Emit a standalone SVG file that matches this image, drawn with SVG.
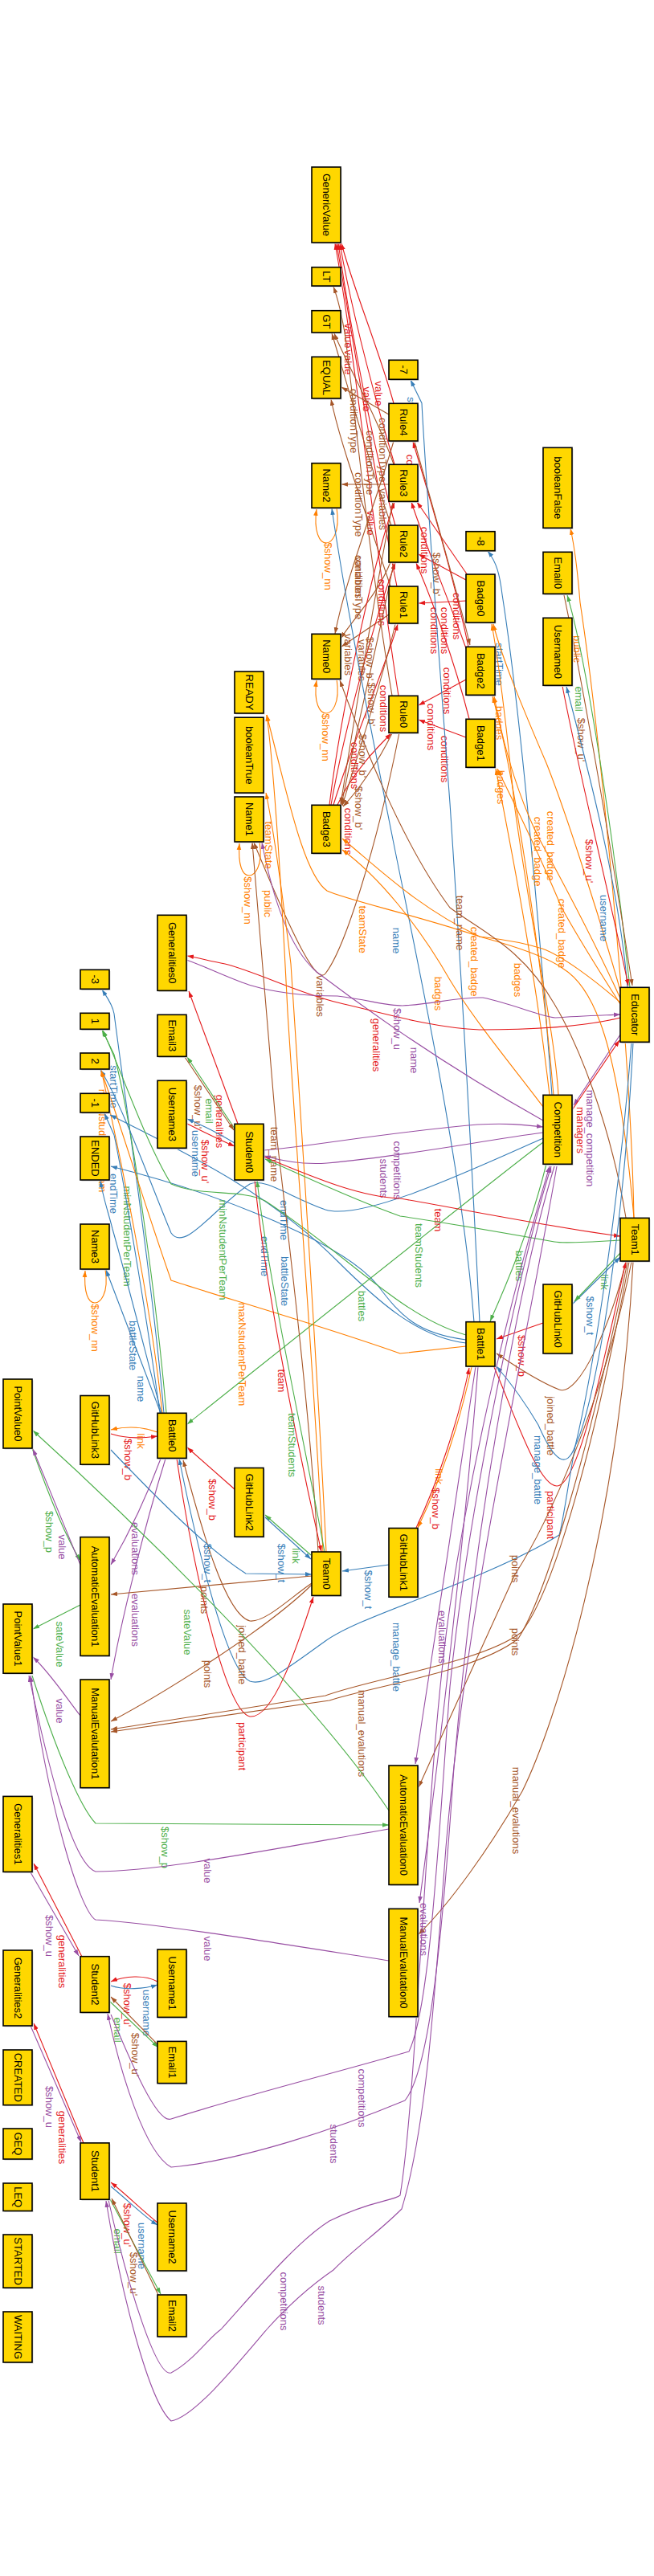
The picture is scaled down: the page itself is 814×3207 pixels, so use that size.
<svg xmlns="http://www.w3.org/2000/svg" width="814" height="3207" viewBox="0 0 814 3207">
<style>
.bg{fill:#fff}
.nd rect{fill:#FFD700;stroke:#000;stroke-width:1.6}
.nd rect.sh{fill:#d8d8d8;stroke:none}
.nd text{font-family:"Liberation Sans",Arial,sans-serif;font-size:13px;fill:#000;text-anchor:middle;dominant-baseline:central}
.e{fill:none;stroke-width:1.1}
.r{stroke:#e41a1c;marker-end:url(#mr)}
.b{stroke:#377eb8;marker-end:url(#mb)}
.g{stroke:#4daf4a;marker-end:url(#mg)}
.p{stroke:#984ea3;marker-end:url(#mp)}
.o{stroke:#ff7f00;marker-end:url(#mo)}
.n{stroke:#a65628;marker-end:url(#mn)}
.l{font-family:"Liberation Sans",Arial,sans-serif;font-size:13px;text-anchor:middle;dominant-baseline:central}
.lr{fill:#e41a1c}.lb{fill:#377eb8}.lg{fill:#4daf4a}.lp{fill:#984ea3}.lo{fill:#ff7f00}.ln{fill:#a65628}
</style>
<defs>
<marker id="mr" viewBox="0 0 10 10" refX="10" refY="5" markerWidth="8" markerHeight="8" markerUnits="userSpaceOnUse" orient="auto"><path d="M0,1.5L10,5L0,8.5z" fill="#e41a1c"/></marker>
<marker id="mb" viewBox="0 0 10 10" refX="10" refY="5" markerWidth="8" markerHeight="8" markerUnits="userSpaceOnUse" orient="auto"><path d="M0,1.5L10,5L0,8.5z" fill="#377eb8"/></marker>
<marker id="mg" viewBox="0 0 10 10" refX="10" refY="5" markerWidth="8" markerHeight="8" markerUnits="userSpaceOnUse" orient="auto"><path d="M0,1.5L10,5L0,8.5z" fill="#4daf4a"/></marker>
<marker id="mp" viewBox="0 0 10 10" refX="10" refY="5" markerWidth="8" markerHeight="8" markerUnits="userSpaceOnUse" orient="auto"><path d="M0,1.5L10,5L0,8.5z" fill="#984ea3"/></marker>
<marker id="mo" viewBox="0 0 10 10" refX="10" refY="5" markerWidth="8" markerHeight="8" markerUnits="userSpaceOnUse" orient="auto"><path d="M0,1.5L10,5L0,8.5z" fill="#ff7f00"/></marker>
<marker id="mn" viewBox="0 0 10 10" refX="10" refY="5" markerWidth="8" markerHeight="8" markerUnits="userSpaceOnUse" orient="auto"><path d="M0,1.5L10,5L0,8.5z" fill="#a65628"/></marker>
</defs>
<rect class="bg" x="0" y="0" width="814" height="3207"/>
<g id="edges">
<!-- Rule values -->
<path class="e r" d="M490,502 C470,430 440,360 425,303"/><text class="l lr" transform="translate(471.7,490) rotate(90)">value</text>
<path class="e r" d="M491,578 C468,500 440,400 423,303"/><text class="l lr" transform="translate(456.7,497) rotate(90)">value</text>
<path class="e r" d="M492,654 C465,560 438,420 421,303"/><text class="l lr" transform="translate(433,418) rotate(90)">value</text>
<path class="e r" d="M494,730 C468,600 440,430 419,303"/><text class="l lr" transform="translate(433,451) rotate(90)">value</text>
<path class="e r" d="M496,866 C472,720 442,440 417,303"/><text class="l lr" transform="translate(461.7,651) rotate(90)">value</text>
<!-- conditionType -->
<path class="e n" d="M484,516 L425,482"/><text class="l ln" transform="translate(440,524) rotate(90)">conditionType</text>
<path class="e n" d="M490,578 C470,520 430,450 416,415"/><text class="l ln" transform="translate(460,576) rotate(90)">conditionType</text>
<path class="e n" d="M487,654 C460,580 430,470 413,415"/><text class="l ln" transform="translate(476,560) rotate(90)">conditionType</text>
<path class="e n" d="M486,730 C460,650 425,560 412,497"/><text class="l ln" transform="translate(446.7,628) rotate(90)">conditionType</text>
<path class="e n" d="M488,866 C460,700 440,500 430,420 C425,390 420,370 415,357"/><text class="l ln" transform="translate(446.7,731) rotate(90)">conditionType</text>
<!-- variables -->
<path class="e n" d="M484,603 L425,603"/><text class="l ln" transform="translate(476,634) rotate(90)">variables</text>
<path class="e n" d="M490,549 C470,620 430,720 417,789"/><text class="l ln" transform="translate(450,822) rotate(90)">variables</text>
<path class="e n" d="M484,765 L425,805"/><text class="l ln" transform="translate(433,815) rotate(90)">variables</text>
<path class="e n" d="M486,700 C470,740 440,770 424,795"/><text class="l ln" transform="translate(446.7,719) rotate(90)">variables</text>
<path class="e n" d="M497,912 C470,1050 430,1180 405,1212 C395,1225 370,1180 316,1049"/><text class="l ln" transform="translate(398,1240) rotate(90)">variables</text>
<!-- conditions -->
<path class="e r" d="M580,748 L521,751"/><text class="l lr" transform="translate(568,767) rotate(90)">conditions</text>
<path class="e r" d="M580,722 L521,690"/><text class="l lr" transform="translate(528,685) rotate(90)">conditions</text>
<path class="e r" d="M582,716 L519,625"/><text class="l lr" transform="translate(510,595) rotate(90)">conditions</text>
<path class="e r" d="M583,805 C565,720 535,620 514,550"/><text class="l lr" transform="translate(553,785) rotate(90)">conditions</text>
<path class="e r" d="M581,810 C560,750 530,680 512,625"/><text class="l lr" transform="translate(540,785) rotate(90)">conditions</text>
<path class="e r" d="M580,846 L521,878"/><text class="l lr" transform="translate(556.7,860) rotate(90)">conditions</text>
<path class="e r" d="M580,918 L521,896"/><text class="l lr" transform="translate(553,945) rotate(90)">conditions</text>
<path class="e r" d="M584,895 C565,820 535,740 518,701"/><text class="l lr" transform="translate(536.7,905) rotate(90)">conditions</text>
<path class="e r" d="M420,1002 C440,960 470,930 487,913"/><text class="l lr" transform="translate(441.7,953) rotate(90)">conditions</text>
<path class="e r" d="M415,1002 C440,920 480,830 495,777"/><text class="l lr" transform="translate(477,882) rotate(90)">conditions</text>
<path class="e r" d="M412,1002 C430,900 470,760 492,701"/><text class="l lr" transform="translate(433,1035) rotate(90)">conditions</text>
<path class="e r" d="M410,1002 C425,880 465,700 491,625"/><text class="l lr" transform="translate(475,750) rotate(90)">conditions</text>
<!-- $show_b' -->
<path class="e n" d="M516,550 C535,620 565,720 585,803"/><text class="l ln" transform="translate(543,715) rotate(90)">$show_b'</text>
<path class="e n" d="M489,625 C470,720 440,900 424,1001"/><text class="l ln" transform="translate(460,820) rotate(90)">$show_b'</text>
<path class="e n" d="M490,701 C475,780 445,900 425,1002"/><text class="l ln" transform="translate(462,877) rotate(90)">$show_b'</text>
<path class="e n" d="M492,777 C475,850 445,940 426,1003"/><text class="l ln" transform="translate(451.7,941) rotate(90)">$show_b'</text>
<path class="e n" d="M488,913 C470,950 445,985 427,1004"/><text class="l ln" transform="translate(446.7,1006) rotate(90)">$show_b'</text>
<!-- name self loops -->
<path class="e o" d="M419,632 C424,665 412,676 406,676 C398,676 390,662 394,634"/><text class="l lo" transform="translate(408,705) rotate(90)">$show_nn</text>
<path class="e o" d="M419,845 C424,878 412,888 406,888 C398,888 390,875 394,847"/><text class="l lo" transform="translate(405,918) rotate(90)">$show_nn</text>
<path class="e o" d="M323,1048 C328,1080 316,1090 310,1090 C302,1090 296,1078 298,1050"/><text class="l lo" transform="translate(308.3,1121) rotate(90)">$show_nn</text>
<path class="e o" d="M131,1580 C136,1612 124,1622 118,1622 C110,1622 104,1610 106,1582"/><text class="l lo" transform="translate(118.4,1653) rotate(90)">$show_nn</text>
<!-- start / end / names -->
<path class="e b" d="M597,1646 C585,1400 570,1150 560,1000 C545,800 530,600 525,502 L511,473"/><text class="l lb" transform="translate(511.7,521) rotate(90)">startTime</text>
<path class="e b" d="M687,1363 C675,1200 650,900 625,740 C622,715 618,700 607,686"/><text class="l lb" transform="translate(621.7,827) rotate(90)">startTime</text>
<path class="e b" d="M590,1646 C575,1450 520,1200 490,1050 C460,900 430,750 413,633"/><text class="l lb" transform="translate(493,1171) rotate(90)">name</text>
<path class="e b" d="M200,1759 L132,1581"/><text class="l lb" transform="translate(175.5,1729) rotate(90)">name</text>
<path class="e b" d="M204,1759 C190,1600 160,1400 142,1262 C140,1250 132,1240 127,1232"/><text class="l lb" transform="translate(141.7,1353) rotate(90)">startTime</text>
<path class="e g" d="M207,1759 C195,1620 165,1400 142,1313 L127,1282"/><text class="l lg" transform="translate(158.4,1539) rotate(90)">minNstudentPerTeam</text>
<path class="e o" d="M202,1759 C185,1600 145,1420 126,1332"/><text class="l lo" transform="translate(127,1420) rotate(90)">maxNstudentPerTeam</text>
<path class="e b" d="M199,1759 C180,1620 150,1450 142,1413 L130,1386"/><text class="l lb" transform="translate(141.2,1486) rotate(90)">endTime</text>
<path class="e b" d="M201,1759 C185,1700 160,1600 140,1530 C135,1510 128,1490 125,1470"/><text class="l lb" transform="translate(165,1675) rotate(90)">battleState</text>
<path class="e b" d="M580,1668 C520,1660 500,1640 470,1600 C420,1540 250,1480 138,1452"/><text class="l lb" transform="translate(354,1595) rotate(90)">battleState</text>
<path class="e b" d="M580,1672 C520,1665 470,1620 420,1570 C330,1480 220,1430 137,1388"/><text class="l lb" transform="translate(353,1519) rotate(90)">endTime</text>
<path class="e b" d="M676,1417 C580,1460 450,1520 405,1506 C360,1490 330,1466 311,1474 C270,1500 230,1560 213,1535 C190,1480 150,1370 125,1332"/><text class="l lb" transform="translate(329.7,1564) rotate(90)">endTime</text>
<path class="e g" d="M580,1662 C500,1640 430,1560 330,1495 C300,1480 250,1490 213,1474 C180,1420 150,1330 128,1283"/><text class="l lg" transform="translate(277.8,1556) rotate(90)">minNstudentPerTeam</text>
<path class="e o" d="M580,1676 L498,1685 C400,1650 260,1610 213,1594 C180,1500 150,1400 126,1333"/><text class="l lo" transform="translate(301,1686) rotate(90)">maxNstudentPerTeam</text>
<!-- competition / educator -->
<path class="e p" d="M676,1395 C560,1330 460,1260 394,1210 C360,1180 340,1120 326,1049"/><text class="l lp" transform="translate(515.7,1320) rotate(90)">name</text>
<path class="e o" d="M689,1363 C675,1200 640,960 613,867"/><text class="l lo" transform="translate(621.7,900) rotate(90)">badges</text>
<path class="e o" d="M684,1363 C665,1200 635,1050 617,957"/><text class="l lo" transform="translate(623.3,980) rotate(90)">badges</text>
<path class="e o" d="M676,1378 C640,1330 590,1270 560,1220 C520,1150 470,1090 426,1058"/><text class="l lo" transform="translate(545.7,1237) rotate(90)">badges</text>
<path class="e o" d="M695,1363 C690,1280 660,1150 640,1000 C630,900 620,820 612,777"/><text class="l lo" transform="translate(644,1220) rotate(90)">badges</text>
<path class="e o" d="M774,1240 C740,1120 700,1000 680,950 C650,880 625,820 614,777"/><text class="l lo" transform="translate(685,1053) rotate(90)">created_badge</text>
<path class="e o" d="M773,1245 C730,1150 690,1080 669,1040 C640,980 625,920 615,867"/><text class="l lo" transform="translate(669.3,1060) rotate(90)">created_badge</text>
<path class="e o" d="M772,1250 C740,1200 710,1150 699,1130 C670,1060 640,1000 619,957"/><text class="l lo" transform="translate(699,1162) rotate(90)">created_badge</text>
<path class="e o" d="M772,1248 C740,1220 700,1190 675,1181 C640,1170 610,1168 597,1166 C520,1130 470,1080 426,1044"/><text class="l lo" transform="translate(590.7,1197) rotate(90)">created_badge</text>
<path class="e o" d="M789,1516 C785,1300 745,900 722,750 C718,700 715,680 710,658"/><text class="l lo" transform="translate(718.3,808) rotate(90)">public</text>
<path class="e g" d="M784,1229 C765,1050 730,820 706,741"/><text class="l lg" transform="translate(720,870) rotate(90)">email</text>
<path class="e n" d="M702,741 C725,850 760,1050 787,1227"/><text class="l ln" transform="translate(723.3,921) rotate(90)">$show_u'</text>
<path class="e b" d="M781,1229 C770,1100 730,950 705,855"/><text class="l lb" transform="translate(751.7,1143) rotate(90)">username</text>
<path class="e r" d="M700,854 C720,960 760,1120 782,1227"/><text class="l lr" transform="translate(733.3,1072) rotate(90)">$show_u'</text>
<path class="e r" d="M772,1267 C720,1280 650,1282 597,1282 C540,1280 480,1262 420,1248 C370,1236 320,1210 280,1200 C260,1196 245,1192 233,1190"/><text class="l lr" transform="translate(468,1301) rotate(90)">generalities</text>
<path class="e p" d="M232,1195 C260,1205 290,1220 313,1227 C350,1238 390,1240 420,1240 C460,1245 480,1252 501,1252 C540,1250 570,1241 601,1242 C640,1250 670,1265 691,1267 C720,1265 750,1264 772,1263"/><text class="l lp" transform="translate(494,1281) rotate(90)">$show_u</text>
<path class="e p" d="M772,1288 L714,1376"/><text class="l lp" transform="translate(734,1417) rotate(90)">manage_competition</text>
<path class="e r" d="M712,1382 L771,1295"/><text class="l lr" transform="translate(722.3,1407) rotate(90)">managers</text>
<path class="e p" d="M676,1410 C600,1420 500,1440 407,1448 C380,1450 350,1445 329,1439"/><text class="l lp" transform="translate(477.3,1467) rotate(90)">students</text>
<path class="e p" d="M328,1432 C380,1428 480,1410 594,1400 C630,1398 650,1400 676,1403"/><text class="l lp" transform="translate(494,1457) rotate(90)">competitions</text>
<path class="e g" d="M680,1449 C660,1530 630,1600 610,1645"/><text class="l lg" transform="translate(646.4,1576) rotate(90)">battles</text>
<path class="e g" d="M676,1422 C600,1480 450,1600 233,1773"/><text class="l lg" transform="translate(450.7,1626) rotate(90)">battles</text>
<path class="e o" d="M789,1516 C770,1300 740,1230 701,1206 C680,1190 630,1175 597,1166 C520,1140 430,1120 407,1109 C380,1090 360,1000 343,934 L332,890"/><text class="l lo" transform="translate(451,1157) rotate(90)">teamState</text>
<path class="e o" d="M402,1932 C390,1700 370,1450 358,1260 C350,1100 340,950 332,890"/><text class="l lo" transform="translate(334,1052) rotate(90)">teamState</text>
<path class="e o" d="M406,1932 C395,1700 375,1400 362,1200 C350,1100 340,1030 331,987"/><text class="l lo" transform="translate(333.3,1125) rotate(90)">public</text>
<path class="e n" d="M779,1516 C760,1400 720,1300 690,1250 C650,1180 600,1160 560,1130 C500,1050 450,920 423,847"/><text class="l ln" transform="translate(572.3,1149) rotate(90)">team_name</text>
<path class="e n" d="M396,1932 C385,1750 360,1550 345,1420 C330,1250 320,1120 314,1049"/><text class="l ln" transform="translate(341.7,1437) rotate(90)">team_name</text>
<!-- student0 -->
<path class="e r" d="M296,1399 L235,1234"/><text class="l lr" transform="translate(273.3,1396) rotate(90)">generalities</text>
<path class="e g" d="M292,1405 L233,1316"/><text class="l lg" transform="translate(260,1383) rotate(90)">email</text>
<path class="e n" d="M230,1316 L291,1407"/><text class="l ln" transform="translate(246.7,1378) rotate(90)">$show_u'</text>
<path class="e b" d="M292,1423 C270,1410 250,1400 233,1393"/><text class="l lb" transform="translate(243.3,1436) rotate(90)">username</text>
<path class="e r" d="M233,1399 C255,1410 275,1420 292,1427"/><text class="l lr" transform="translate(255,1446) rotate(90)">$show_u'</text>
<path class="e r" d="M328,1440 C400,1470 450,1490 498,1492 C600,1510 700,1530 772,1539"/><text class="l lr" transform="translate(545,1519) rotate(90)">team</text>
<path class="e g" d="M772,1544 C740,1546 700,1548 690,1546 C600,1530 540,1520 498,1514 C430,1490 370,1460 330,1443"/><text class="l lg" transform="translate(521.8,1563) rotate(90)">teamStudents</text>
<path class="e r" d="M317,1469 C330,1600 370,1800 400,1932"/><text class="l lr" transform="translate(350.5,1719) rotate(90)">team</text>
<path class="e g" d="M404,1932 C380,1800 335,1600 320,1470"/><text class="l lg" transform="translate(363,1799) rotate(90)">teamStudents</text>
<!-- battles / teams / links -->
<path class="e r" d="M676,1647 L618,1667"/><text class="l lr" transform="translate(649,1688) rotate(90)">$show_b</text>
<path class="e b" d="M712,1624 L772,1565"/><text class="l lb" transform="translate(734.7,1638) rotate(90)">$show_t</text>
<path class="e g" d="M772,1560 L715,1620"/><text class="l lg" transform="translate(752.9,1596) rotate(90)">link</text>
<path class="e n" d="M779,1571 C760,1650 720,1740 696,1730 C670,1720 640,1700 618,1685"/><text class="l ln" transform="translate(685.4,1775) rotate(90)">joined_battle</text>
<path class="e r" d="M615,1702 C640,1760 670,1850 693,1850 C720,1850 750,1700 779,1571"/><text class="l lr" transform="translate(685.4,1886) rotate(90)">participant</text>
<path class="e b" d="M786,1298 C770,1500 740,1700 716,1800 C705,1830 690,1820 670,1774 C650,1740 630,1715 618,1701"/><text class="l lb" transform="translate(669,1830) rotate(90)">manage_battle</text>
<path class="e b" d="M788,1298 C775,1550 740,1750 716,1800 C705,1860 700,1900 696,1911 C600,1970 450,2010 405,2043 C360,2075 330,2100 311,2093 C280,2080 240,1900 223,1816"/><text class="l lb" transform="translate(493.2,2063) rotate(90)">manage_battle</text>
<path class="e r" d="M220,1816 C240,1950 280,2130 311,2137 C340,2140 370,2050 390,1988"/><text class="l lr" transform="translate(301,2174) rotate(90)">participant</text>
<path class="e n" d="M388,1971 C360,1990 330,2020 311,2018 C280,2010 250,1900 228,1818"/><text class="l ln" transform="translate(301,2060) rotate(90)">joined_battle</text>
<path class="e g" d="M387,1936 L330,1886"/><text class="l lg" transform="translate(368.6,1937) rotate(90)">link</text>
<path class="e b" d="M330,1889 L387,1941"/><text class="l lb" transform="translate(350.5,1946) rotate(90)">$show_t</text>
<path class="e r" d="M292,1854 L233,1802"/><text class="l lr" transform="translate(264.8,1867) rotate(90)">$show_b</text>
<path class="e o" d="M196,1783 C175,1775 155,1776 138,1780"/><text class="l lo" transform="translate(175.5,1794) rotate(90)">link</text>
<path class="e r" d="M138,1785 C160,1792 180,1790 196,1788"/><text class="l lr" transform="translate(159,1817) rotate(90)">$show_b</text>
<path class="e o" d="M587,1702 C570,1780 545,1850 520,1902"/><text class="l lo" transform="translate(546.7,1838) rotate(90)">link</text>
<path class="e r" d="M518,1902 C545,1845 570,1770 584,1703"/><text class="l lr" transform="translate(542.6,1878) rotate(90)">$show_b</text>
<path class="e b" d="M484,1948 L426,1956"/><text class="l lb" transform="translate(458,1979) rotate(90)">$show_t</text>
<path class="e b" d="M138,1805 C200,1870 260,1930 306,1959 L388,1960"/><text class="l lb" transform="translate(258,1946) rotate(90)">$show_t</text>
<!-- evaluations -->
<path class="e p" d="M200,1816 C180,1870 160,1910 138,1948"/><text class="l lp" transform="translate(168.7,1928) rotate(90)">evaluations</text>
<path class="e p" d="M206,1816 C180,1900 150,2020 138,2091"/><text class="l lp" transform="translate(168.7,2017) rotate(90)">evaluations</text>
<path class="e p" d="M592,1701 C570,1850 540,2050 517,2196"/><text class="l lp" transform="translate(550.4,2038) rotate(90)">evaluations</text>
<path class="e p" d="M595,1701 C580,1900 545,2200 522,2369"/><text class="l lp" transform="translate(527,2402) rotate(90)">evaluations</text>
<path class="e n" d="M388,1962 L138,1985"/><text class="l ln" transform="translate(254.4,1992) rotate(90)">points</text>
<path class="e n" d="M388,1973 C330,2030 200,2110 138,2143"/><text class="l ln" transform="translate(258,2084) rotate(90)">points</text>
<path class="e n" d="M783,1571 C740,1800 690,1980 649,2032 C600,2070 460,2090 405,2111 L138,2153"/><text class="l ln" transform="translate(641.2,2044) rotate(90)">points</text>
<path class="e n" d="M781,1571 C735,1800 680,1985 645,2040 C595,2080 470,2098 410,2117 L138,2156"/><text class="l ln" transform="translate(450.7,2158) rotate(90)">manual_evalutions</text>
<path class="e n" d="M786,1571 C750,1750 680,1900 641,1960 C600,2050 550,2160 521,2225"/><text class="l ln" transform="translate(641.2,1953) rotate(90)">points</text>
<path class="e n" d="M788,1571 C770,1900 690,2150 650,2230 C610,2300 560,2370 521,2408"/><text class="l ln" transform="translate(642.3,2254) rotate(90)">manual_evalutions</text>
<!-- point values -->
<path class="e g" d="M100,1998 L41,2028"/><text class="l lg" transform="translate(74.2,2047) rotate(90)">sateValue</text>
<path class="e g" d="M484,2254 C380,2100 150,1880 41,1781"/><text class="l lg" transform="translate(233.6,2032) rotate(90)">sateValue</text>
<path class="e g" d="M40,1803 C60,1860 80,1910 100,1943"/><text class="l lg" transform="translate(61.3,1907) rotate(90)">$show_p</text>
<path class="e p" d="M100,1948 C80,1900 60,1850 41,1804"/><text class="l lp" transform="translate(77.9,1926) rotate(90)">value</text>
<path class="e p" d="M100,2136 C80,2110 60,2080 41,2063"/><text class="l lp" transform="translate(74.2,2130) rotate(90)">value</text>
<path class="e g" d="M40,2086 C70,2180 100,2250 119,2270 L484,2272"/><text class="l lg" transform="translate(205,2300) rotate(90)">$show_p</text>
<path class="e p" d="M484,2277 C350,2300 200,2330 119,2330 C90,2320 60,2200 36,2086"/><text class="l lp" transform="translate(258,2329) rotate(90)">value</text>
<path class="e p" d="M484,2441 C350,2420 200,2395 119,2390 C100,2380 60,2250 38,2086"/><text class="l lp" transform="translate(258,2426) rotate(90)">value</text>
<!-- students 1,2 -->
<path class="e r" d="M102,2436 L42,2320"/><text class="l lr" transform="translate(77.9,2442) rotate(90)">generalities</text>
<path class="e p" d="M38,2331 L98,2435"/><text class="l lp" transform="translate(61.3,2410) rotate(90)">$show_u</text>
<path class="e r" d="M104,2668 L42,2519"/><text class="l lr" transform="translate(77.9,2661) rotate(90)">generalities</text>
<path class="e p" d="M38,2522 L101,2667"/><text class="l lp" transform="translate(61.3,2623) rotate(90)">$show_u</text>
<path class="e r" d="M196,2467 C180,2458 155,2460 138,2467"/><text class="l lr" transform="translate(158.4,2496) rotate(90)">$show_u'</text>
<path class="e b" d="M138,2472 C155,2478 180,2476 196,2471"/><text class="l lb" transform="translate(182.8,2506) rotate(90)">username</text>
<path class="e g" d="M137,2492 L197,2549"/><text class="l lg" transform="translate(146.4,2527) rotate(90)">email</text>
<path class="e n" d="M196,2545 L138,2486"/><text class="l ln" transform="translate(168.7,2558) rotate(90)">$show_u'</text>
<path class="e r" d="M196,2767 C175,2750 155,2730 138,2717"/><text class="l lr" transform="translate(158.4,2770) rotate(90)">$show_u'</text>
<path class="e b" d="M138,2722 C160,2740 180,2760 196,2770"/><text class="l lb" transform="translate(176.5,2796) rotate(90)">username</text>
<path class="e g" d="M137,2738 L200,2856"/><text class="l lg" transform="translate(146.4,2790) rotate(90)">email</text>
<path class="e n" d="M197,2857 L139,2737"/><text class="l ln" transform="translate(166,2831) rotate(90)">$show_u'</text>
<path class="e p" d="M138,2508 C160,2560 195,2645 213,2638 C300,2610 420,2580 509,2554 C535,2500 545,2300 560,2100 C580,1900 640,1600 686,1452"/><text class="l lp" transform="translate(450.7,2612) rotate(90)">competitions</text>
<path class="e p" d="M690,1452 C645,1600 590,1900 565,2200 C548,2450 532,2580 504,2615 C420,2650 300,2690 213,2698 C180,2680 150,2580 134,2507"/><text class="l lp" transform="translate(415.4,2669) rotate(90)">students</text>
<path class="e p" d="M135,2739 C160,2850 195,2960 213,2954 C240,2940 260,2910 275,2900 C320,2850 370,2790 410,2765 C460,2740 490,2740 498,2733 C520,2600 530,2200 560,2000 C590,1800 640,1600 684,1452"/><text class="l lp" transform="translate(353,2865) rotate(90)">competitions</text>
<path class="e p" d="M693,1452 C650,1700 580,2000 555,2300 C540,2500 530,2650 500,2750 C470,2780 440,2800 415,2826 C380,2850 350,2880 332,2900 C290,2950 240,3010 213,3014 C185,2990 150,2850 132,2740"/><text class="l lp" transform="translate(400,2870) rotate(90)">students</text>
</g>
<g id="nodes">
<g class="nd" id="n-GenericValue"><rect class="sh" x="389.5" y="209.5" width="36" height="94"/><rect x="388" y="208" width="36" height="94"/><text transform="translate(406,255) rotate(90)">GenericValue</text></g>
<g class="nd" id="n-LT"><rect class="sh" x="389.5" y="334" width="36" height="23.3"/><rect x="388" y="332.7" width="36" height="23.3"/><text transform="translate(406,344.3) rotate(90)">LT</text></g>
<g class="nd" id="n-GT"><rect class="sh" x="389.5" y="388" width="36" height="27.3"/><rect x="388" y="386.7" width="36" height="27.3"/><text transform="translate(406,400.3) rotate(90)">GT</text></g>
<g class="nd" id="n-EQUAL"><rect class="sh" x="389.5" y="446" width="36" height="51.7"/><rect x="388" y="444.3" width="36" height="51.7"/><text transform="translate(406,470.2) rotate(90)">EQUAL</text></g>
<g class="nd" id="n-Name2"><rect class="sh" x="389.5" y="578" width="36" height="55.6"/><rect x="388" y="576.7" width="36" height="55.6"/><text transform="translate(406,604.5) rotate(90)">Name2</text></g>
<g class="nd" id="n-Name0"><rect class="sh" x="389.5" y="791" width="36" height="56"/><rect x="388" y="789.3" width="36" height="56"/><text transform="translate(406,817.3) rotate(90)">Name0</text></g>
<g class="nd" id="n-Badge3"><rect class="sh" x="389.5" y="1004" width="36" height="60"/><rect x="388" y="1002.3" width="36" height="60"/><text transform="translate(406,1032.3) rotate(90)">Badge3</text></g>
<g class="nd" id="n-Team0"><rect class="sh" x="389.5" y="1933.5" width="36" height="54.4"/><rect x="388" y="1932" width="36" height="54.4"/><text transform="translate(406,1959.2) rotate(90)">Team0</text></g>
<g class="nd" id="n-m7"><rect class="sh" x="485.5" y="450" width="36" height="24"/><rect x="484" y="448.3" width="36" height="24"/><text transform="translate(502,460.3) rotate(90)">-7</text></g>
<g class="nd" id="n-Rule4"><rect class="sh" x="485.5" y="504" width="36" height="46.7"/><rect x="484" y="502.3" width="36" height="46.7"/><text transform="translate(502,525.7) rotate(90)">Rule4</text></g>
<g class="nd" id="n-Rule3"><rect class="sh" x="485.5" y="580" width="36" height="46"/><rect x="484" y="578.3" width="36" height="46"/><text transform="translate(502,601.3) rotate(90)">Rule3</text></g>
<g class="nd" id="n-Rule2"><rect class="sh" x="485.5" y="655.5" width="36" height="46"/><rect x="484" y="654" width="36" height="46"/><text transform="translate(502,677) rotate(90)">Rule2</text></g>
<g class="nd" id="n-Rule1"><rect class="sh" x="485.5" y="731.5" width="36" height="46"/><rect x="484" y="730" width="36" height="46"/><text transform="translate(502,753) rotate(90)">Rule1</text></g>
<g class="nd" id="n-Rule0"><rect class="sh" x="485.5" y="868" width="36" height="46"/><rect x="484" y="866.3" width="36" height="46"/><text transform="translate(502,889.3) rotate(90)">Rule0</text></g>
<g class="nd" id="n-GitHubLink1"><rect class="sh" x="485.5" y="1904" width="36" height="85.7"/><rect x="484" y="1902.5" width="36" height="85.7"/><text transform="translate(502,1945.3) rotate(90)">GitHubLink1</text></g>
<g class="nd" id="n-AutomaticEvaluation0"><rect class="sh" x="485.5" y="2199.5" width="36" height="148.4"/><rect x="484" y="2198" width="36" height="148.4"/><text transform="translate(502,2272.2) rotate(90)">AutomaticEvaluation0</text></g>
<g class="nd" id="n-ManualEvaluation0"><rect class="sh" x="485.5" y="2378" width="36" height="134.3"/><rect x="484" y="2376.4" width="36" height="134.3"/><text transform="translate(502,2443.5) rotate(90)">ManualEvalutation0</text></g>
<g class="nd" id="n-m8"><rect class="sh" x="581.5" y="663" width="36" height="24"/><rect x="580" y="661.7" width="36" height="24"/><text transform="translate(598,673.7) rotate(90)">-8</text></g>
<g class="nd" id="n-Badge0"><rect class="sh" x="581.5" y="716.5" width="36" height="60"/><rect x="580" y="715" width="36" height="60"/><text transform="translate(598,745) rotate(90)">Badge0</text></g>
<g class="nd" id="n-Badge2"><rect class="sh" x="581.5" y="807" width="36" height="60"/><rect x="580" y="805.3" width="36" height="60"/><text transform="translate(598,835.3) rotate(90)">Badge2</text></g>
<g class="nd" id="n-Badge1"><rect class="sh" x="581.5" y="897" width="36" height="60"/><rect x="580" y="895.3" width="36" height="60"/><text transform="translate(598,925.3) rotate(90)">Badge1</text></g>
<g class="nd" id="n-Battle1"><rect class="sh" x="581.5" y="1647" width="36" height="55.3"/><rect x="580" y="1645.7" width="36" height="55.3"/><text transform="translate(598,1673.3) rotate(90)">Battle1</text></g>
<g class="nd" id="n-booleanFalse"><rect class="sh" x="677.5" y="559" width="36" height="100"/><rect x="676" y="557.3" width="36" height="100"/><text transform="translate(694,607.3) rotate(90)">booleanFalse</text></g>
<g class="nd" id="n-Email0"><rect class="sh" x="677.5" y="689" width="36" height="52"/><rect x="676" y="687.3" width="36" height="52"/><text transform="translate(694,713.3) rotate(90)">Email0</text></g>
<g class="nd" id="n-Username0"><rect class="sh" x="677.5" y="771" width="36" height="84"/><rect x="676" y="769.3" width="36" height="84"/><text transform="translate(694,811.3) rotate(90)">Username0</text></g>
<g class="nd" id="n-Competition"><rect class="sh" x="677.5" y="1365" width="36" height="86"/><rect x="676" y="1363.3" width="36" height="86"/><text transform="translate(694,1406.3) rotate(90)">Competition</text></g>
<g class="nd" id="n-GitHubLink0"><rect class="sh" x="677.5" y="1600.5" width="36" height="86"/><rect x="676" y="1599" width="36" height="86"/><text transform="translate(694,1642) rotate(90)">GitHubLink0</text></g>
<g class="nd" id="n-Educator"><rect class="sh" x="773.5" y="1231" width="36" height="68"/><rect x="772" y="1229.3" width="36" height="68"/><text transform="translate(790,1263.3) rotate(90)">Educator</text></g>
<g class="nd" id="n-Team1"><rect class="sh" x="773.5" y="1518" width="36" height="53.6"/><rect x="772" y="1516.4" width="36" height="53.6"/><text transform="translate(790,1543.2) rotate(90)">Team1</text></g>
<g class="nd" id="n-READY"><rect class="sh" x="293.5" y="837.5" width="36" height="52"/><rect x="292" y="836" width="36" height="52"/><text transform="translate(310,862) rotate(90)">READY</text></g>
<g class="nd" id="n-booleanTrue"><rect class="sh" x="293.5" y="894.7" width="36" height="93.9"/><rect x="292" y="893.2" width="36" height="93.9"/><text transform="translate(310,940.2) rotate(90)">booleanTrue</text></g>
<g class="nd" id="n-Name1"><rect class="sh" x="293.5" y="993.5" width="36" height="56"/><rect x="292" y="992" width="36" height="56"/><text transform="translate(310,1020) rotate(90)">Name1</text></g>
<g class="nd" id="n-Student0"><rect class="sh" x="293.5" y="1401" width="36" height="69.7"/><rect x="292" y="1399.3" width="36" height="69.7"/><text transform="translate(310,1434.2) rotate(90)">Student0</text></g>
<g class="nd" id="n-GitHubLink2"><rect class="sh" x="293.5" y="1829" width="36" height="85.7"/><rect x="292" y="1827.5" width="36" height="85.7"/><text transform="translate(310,1870.3) rotate(90)">GitHubLink2</text></g>
<g class="nd" id="n-Generalities0"><rect class="sh" x="197.5" y="1141" width="36" height="94"/><rect x="196" y="1139.3" width="36" height="94"/><text transform="translate(214,1186.3) rotate(90)">Generalities0</text></g>
<g class="nd" id="n-Email3"><rect class="sh" x="197.5" y="1265" width="36" height="52"/><rect x="196" y="1263.3" width="36" height="52"/><text transform="translate(214,1289.3) rotate(90)">Email3</text></g>
<g class="nd" id="n-Username3"><rect class="sh" x="197.5" y="1347" width="36" height="84"/><rect x="196" y="1345.3" width="36" height="84"/><text transform="translate(214,1387.3) rotate(90)">Username3</text></g>
<g class="nd" id="n-Battle0"><rect class="sh" x="197.5" y="1761" width="36" height="56.1"/><rect x="196" y="1759.3" width="36" height="56.1"/><text transform="translate(214,1787.3) rotate(90)">Battle0</text></g>
<g class="nd" id="n-Username1"><rect class="sh" x="197.5" y="2428.5" width="36" height="84.4"/><rect x="196" y="2427" width="36" height="84.4"/><text transform="translate(214,2469.2) rotate(90)">Username1</text></g>
<g class="nd" id="n-Email1"><rect class="sh" x="197.5" y="2543" width="36" height="52.2"/><rect x="196" y="2541.4" width="36" height="52.2"/><text transform="translate(214,2567.5) rotate(90)">Email1</text></g>
<g class="nd" id="n-Username2"><rect class="sh" x="197.5" y="2744.5" width="36" height="84.1"/><rect x="196" y="2742.9" width="36" height="84.1"/><text transform="translate(214,2785) rotate(90)">Username2</text></g>
<g class="nd" id="n-Email2"><rect class="sh" x="197.5" y="2858.5" width="36" height="52"/><rect x="196" y="2857" width="36" height="52"/><text transform="translate(214,2883) rotate(90)">Email2</text></g>
<g class="nd" id="n-m3"><rect class="sh" x="101.5" y="1209" width="36" height="24"/><rect x="100" y="1207.3" width="36" height="24"/><text transform="translate(118,1219.3) rotate(90)">-3</text></g>
<g class="nd" id="n-1"><rect class="sh" x="101.5" y="1263" width="36" height="20"/><rect x="100" y="1261.3" width="36" height="20"/><text transform="translate(118,1271.3) rotate(90)">1</text></g>
<g class="nd" id="n-2"><rect class="sh" x="101.5" y="1312.5" width="36" height="20"/><rect x="100" y="1311" width="36" height="20"/><text transform="translate(118,1321) rotate(90)">2</text></g>
<g class="nd" id="n-m1"><rect class="sh" x="101.5" y="1363" width="36" height="23.7"/><rect x="100" y="1361.3" width="36" height="23.7"/><text transform="translate(118,1373.2) rotate(90)">-1</text></g>
<g class="nd" id="n-ENDED"><rect class="sh" x="101.5" y="1416.5" width="36" height="54"/><rect x="100" y="1415" width="36" height="54"/><text transform="translate(118,1442) rotate(90)">ENDED</text></g>
<g class="nd" id="n-Name3"><rect class="sh" x="101.5" y="1525.5" width="36" height="56"/><rect x="100" y="1524" width="36" height="56"/><text transform="translate(118,1552) rotate(90)">Name3</text></g>
<g class="nd" id="n-GitHubLink3"><rect class="sh" x="101.5" y="1739" width="36" height="85.7"/><rect x="100" y="1737.5" width="36" height="85.7"/><text transform="translate(118,1780.3) rotate(90)">GitHubLink3</text></g>
<g class="nd" id="n-AutomaticEvaluation1"><rect class="sh" x="101.5" y="1915" width="36" height="147.8"/><rect x="100" y="1913.6" width="36" height="147.8"/><text transform="translate(118,1987.5) rotate(90)">AutomaticEvaluation1</text></g>
<g class="nd" id="n-ManualEvaluation1"><rect class="sh" x="101.5" y="2092.5" width="36" height="134.7"/><rect x="100" y="2091" width="36" height="134.7"/><text transform="translate(118,2158.3) rotate(90)">ManualEvalutation1</text></g>
<g class="nd" id="n-Student2"><rect class="sh" x="101.5" y="2437" width="36" height="69.7"/><rect x="100" y="2435.7" width="36" height="69.7"/><text transform="translate(118,2470.5) rotate(90)">Student2</text></g>
<g class="nd" id="n-Student1"><rect class="sh" x="101.5" y="2669.5" width="36" height="70.3"/><rect x="100" y="2667.9" width="36" height="70.3"/><text transform="translate(118,2703) rotate(90)">Student1</text></g>
<g class="nd" id="n-PointValue0"><rect class="sh" x="5.5" y="1718.5" width="36" height="86"/><rect x="4" y="1717" width="36" height="86"/><text transform="translate(22,1760) rotate(90)">PointValue0</text></g>
<g class="nd" id="n-PointValue1"><rect class="sh" x="5.5" y="1998.5" width="36" height="86.2"/><rect x="4" y="1997" width="36" height="86.2"/><text transform="translate(22,2040.1) rotate(90)">PointValue1</text></g>
<g class="nd" id="n-Generalities1"><rect class="sh" x="5.5" y="2238" width="36" height="94"/><rect x="4" y="2236.4" width="36" height="94"/><text transform="translate(22,2283.4) rotate(90)">Generalities1</text></g>
<g class="nd" id="n-Generalities2"><rect class="sh" x="5.5" y="2429.5" width="36" height="94"/><rect x="4" y="2428" width="36" height="94"/><text transform="translate(22,2475) rotate(90)">Generalities2</text></g>
<g class="nd" id="n-CREATED"><rect class="sh" x="5.5" y="2553.5" width="36" height="68.7"/><rect x="4" y="2552" width="36" height="68.7"/><text transform="translate(22,2586.3) rotate(90)">CREATED</text></g>
<g class="nd" id="n-GEQ"><rect class="sh" x="5.5" y="2651.5" width="36" height="38"/><rect x="4" y="2650" width="36" height="38"/><text transform="translate(22,2669) rotate(90)">GEQ</text></g>
<g class="nd" id="n-LEQ"><rect class="sh" x="5.5" y="2719.5" width="36" height="34.5"/><rect x="4" y="2718" width="36" height="34.5"/><text transform="translate(22,2735.2) rotate(90)">LEQ</text></g>
<g class="nd" id="n-STARTED"><rect class="sh" x="5.5" y="2783.5" width="36" height="66.2"/><rect x="4" y="2782" width="36" height="66.2"/><text transform="translate(22,2815.1) rotate(90)">STARTED</text></g>
<g class="nd" id="n-WAITING"><rect class="sh" x="5.5" y="2879.5" width="36" height="63"/><rect x="4" y="2878" width="36" height="63"/><text transform="translate(22,2909.5) rotate(90)">WAITING</text></g>
</g>
</svg>
